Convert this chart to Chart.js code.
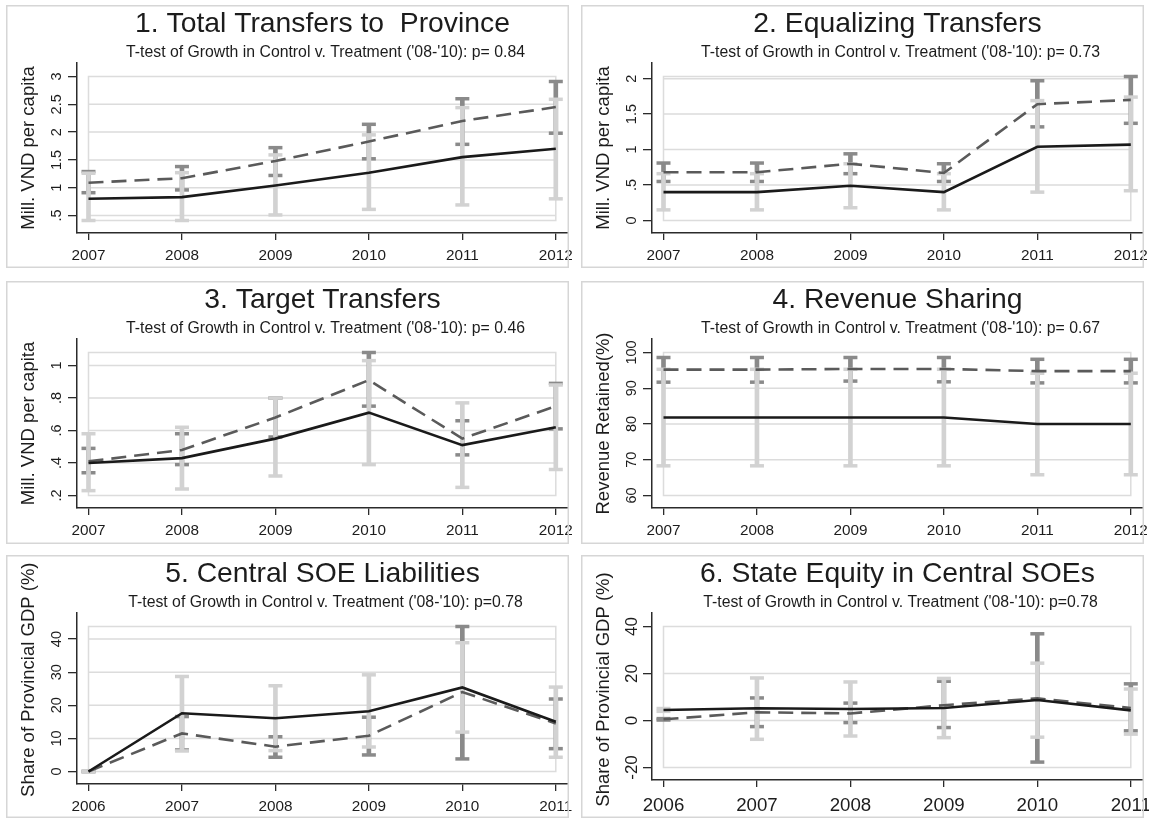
<!DOCTYPE html>
<html><head><meta charset="utf-8">
<script src="https://cdn.jsdelivr.net/npm/chart.js@4.4.1/dist/chart.umd.min.js"></script>
<style>
html,body{margin:0;padding:0;background:#fff;}
body{width:1149px;height:818px;position:relative;overflow:hidden;}
canvas{position:absolute;}
</style></head><body>
<canvas id="c1" width="577" height="264" style="left:6px;top:5px"></canvas>
<canvas id="c2" width="577" height="264" style="left:581px;top:5px"></canvas>
<canvas id="c3" width="577" height="264" style="left:6px;top:281px"></canvas>
<canvas id="c4" width="577" height="264" style="left:581px;top:281px"></canvas>
<canvas id="c5" width="577" height="264" style="left:6px;top:555px"></canvas>
<canvas id="c6" width="577" height="264" style="left:581px;top:555px"></canvas>
<script>
// ---------- categories ----------
const yearsA = [2007, 2008, 2009, 2010, 2011, 2012];
const yearsB = [2006, 2007, 2008, 2009, 2010, 2011];

// ---------- titles ----------
const titles = ["1. Total Transfers to  Province", "2. Equalizing Transfers", "3. Target Transfers",
  "4. Revenue Sharing", "5. Central SOE Liabilities", "6. State Equity in Central SOEs"];
const subtitles = [
  "T-test of Growth in Control v. Treatment ('08-'10): p= 0.84",
  "T-test of Growth in Control v. Treatment ('08-'10): p= 0.73",
  "T-test of Growth in Control v. Treatment ('08-'10): p= 0.46",
  "T-test of Growth in Control v. Treatment ('08-'10): p= 0.67",
  "T-test of Growth in Control v. Treatment ('08-'10): p=0.78",
  "T-test of Growth in Control v. Treatment ('08-'10): p=0.78"];
const yTitles = ["Mill. VND per capita", "Mill. VND per capita", "Mill. VND per capita",
  "Revenue Retained(%)", "Share of Provincial GDP (%)", "Share of Provincial GDP (%)"];

// ---------- y tick values / labels ----------
const p1Ticks = [0.5, 1, 1.5, 2, 2.5, 3];      const p1TickLabels = [".5", "1", "1.5", "2", "2.5", "3"];
const p2Ticks = [0, 0.5, 1, 1.5, 2];           const p2TickLabels = ["0", ".5", "1", "1.5", "2"];
const p3Ticks = [0.2, 0.4, 0.6, 0.8, 1];       const p3TickLabels = [".2", ".4", ".6", ".8", "1"];
const p4Ticks = [60, 70, 80, 90, 100];         const p4TickLabels = ["60", "70", "80", "90", "100"];
const p5Ticks = [0, 10, 20, 30, 40];           const p5TickLabels = ["0", "10", "20", "30", "40"];
const p6Ticks = [-20, 0, 20, 40];              const p6TickLabels = ["-20", "0", "20", "40"];

// ---------- series (solid = black line + light CI, dashed = grey line + dark CI) ----------
const p1Solid   = [0.80, 0.83, 1.04, 1.27, 1.55, 1.70];
const p1SolidLo = [0.41, 0.41, 0.51, 0.61, 0.69, 0.80];
const p1SolidHi = [1.26, 1.27, 1.59, 1.95, 2.44, 2.59];
const p1Dash    = [1.09, 1.17, 1.48, 1.83, 2.20, 2.45];
const p1DashLo  = [0.91, 0.96, 1.22, 1.52, 1.78, 1.98];
const p1DashHi  = [1.29, 1.38, 1.72, 2.14, 2.60, 2.91];

const p2Solid   = [0.40, 0.40, 0.49, 0.40, 1.04, 1.07];
const p2SolidLo = [0.15, 0.15, 0.18, 0.15, 0.40, 0.42];
const p2SolidHi = [0.66, 0.66, 0.80, 0.66, 1.69, 1.74];
const p2Dash    = [0.68, 0.68, 0.80, 0.67, 1.64, 1.70];
const p2DashLo  = [0.55, 0.55, 0.66, 0.55, 1.32, 1.37];
const p2DashHi  = [0.81, 0.81, 0.94, 0.80, 1.97, 2.03];

const p3Solid   = [0.40, 0.43, 0.55, 0.71, 0.51, 0.62];
const p3SolidLo = [0.23, 0.24, 0.32, 0.39, 0.25, 0.36];
const p3SolidHi = [0.58, 0.62, 0.80, 1.03, 0.77, 0.88];
const p3Dash    = [0.41, 0.48, 0.68, 0.91, 0.55, 0.75];
const p3DashLo  = [0.34, 0.39, 0.56, 0.75, 0.45, 0.61];
const p3DashHi  = [0.49, 0.58, 0.80, 1.08, 0.66, 0.89];

const p4Solid   = [81.8, 81.8, 81.8, 81.8, 80.0, 80.0];
const p4SolidLo = [68.3, 68.3, 68.3, 68.3, 65.8, 65.8];
const p4SolidHi = [95.3, 95.3, 95.3, 95.3, 94.2, 94.2];
const p4Dash    = [95.2, 95.2, 95.4, 95.4, 94.8, 94.8];
const p4DashLo  = [91.7, 91.7, 92.0, 91.8, 91.5, 91.5];
const p4DashHi  = [98.6, 98.6, 98.6, 98.6, 98.1, 98.1];

const p5Solid   = [0, 17.6, 16.1, 18.2, 25.4, 15.0];
const p5SolidLo = [0, 6.2, 6.3, 7.4, 11.9, 4.3];
const p5SolidHi = [0, 28.7, 25.9, 29.2, 38.9, 25.5];
const p5Dash    = [0, 11.5, 7.5, 10.8, 24.0, 14.5];
const p5DashLo  = [0, 6.5, 4.3, 5.0, 3.8, 6.9];
const p5DashHi  = [0, 16.6, 10.5, 16.4, 43.8, 21.9];

const p6Solid   = [4.5, 5.2, 4.9, 5.3, 8.7, 4.3];
const p6SolidLo = [3.9, -8.0, -6.6, -7.3, -7.1, -5.8];
const p6SolidHi = [5.1, 18.1, 16.4, 17.9, 24.4, 13.4];
const p6Dash    = [0.5, 3.5, 3.0, 6.5, 9.4, 5.3];
const p6DashLo  = [0.2, -2.6, -0.9, -3.0, -17.7, -4.4];
const p6DashHi  = [0.8, 9.6, 7.4, 16.7, 36.9, 15.6];

// ---------- panel table built from the arrays ----------
const panels = [
  {id:'c1', years:yearsA, ticks:p1Ticks, tickLabels:p1TickLabels, s:p1Solid, sLo:p1SolidLo, sHi:p1SolidHi, d:p1Dash, dLo:p1DashLo, dHi:p1DashHi},
  {id:'c2', years:yearsA, ticks:p2Ticks, tickLabels:p2TickLabels, s:p2Solid, sLo:p2SolidLo, sHi:p2SolidHi, d:p2Dash, dLo:p2DashLo, dHi:p2DashHi},
  {id:'c3', years:yearsA, ticks:p3Ticks, tickLabels:p3TickLabels, s:p3Solid, sLo:p3SolidLo, sHi:p3SolidHi, d:p3Dash, dLo:p3DashLo, dHi:p3DashHi},
  {id:'c4', years:yearsA, ticks:p4Ticks, tickLabels:p4TickLabels, s:p4Solid, sLo:p4SolidLo, sHi:p4SolidHi, d:p4Dash, dLo:p4DashLo, dHi:p4DashHi},
  {id:'c5', years:yearsB, ticks:p5Ticks, tickLabels:p5TickLabels, s:p5Solid, sLo:p5SolidLo, sHi:p5SolidHi, d:p5Dash, dLo:p5DashLo, dHi:p5DashHi},
  {id:'c6', years:yearsB, ticks:p6Ticks, tickLabels:p6TickLabels, s:p6Solid, sLo:p6SolidLo, sHi:p6SolidHi, d:p6Dash, dLo:p6DashLo, dHi:p6DashHi}
];
// layout / style per panel
const styles = [
  {plotBottom:228, yTitleC:null,  yTickFont:14.5, yTickX:54.7, xTickFont:15.3, xTickDy:27},
  {plotBottom:228, yTitleC:null,  yTickFont:14.5, yTickX:54.7, xTickFont:15.3, xTickDy:27},
  {plotBottom:227, yTitleC:null,  yTickFont:14.5, yTickX:54.7, xTickFont:15.3, xTickDy:27},
  {plotBottom:227, yTitleC:null,  yTickFont:14.5, yTickX:54.7, xTickFont:15.3, xTickDy:27},
  {plotBottom:229, yTitleC:124.7, yTickFont:14.5, yTickX:54.7, xTickFont:15.3, xTickDy:27},
  {plotBottom:225, yTitleC:134.5, yTickFont:17,   yTickX:55.7, xTickFont:18.7, xTickDy:30.7}
];

const FONT = "'Liberation Sans', Arial, Helvetica, sans-serif";
Chart.defaults.font.family = FONT;
const LIGHT = '#d2d2d2', DARK = '#8a8a8a', SOLID = '#1a1a1a', DASH = '#5a5a5a';
const GRID = '#dcdcdc', AXIS = '#2b2b2b', FRAME = '#d6d6d6', TEXT = '#1c1c1c';

const pts = (xs, ys) => xs.map((x, i) => ({x: x, y: ys[i]}));
const capPts = (xs, lo, hi) => xs.flatMap((x, i) => [{x: x, y: lo[i]}, {x: x, y: hi[i]}]);
const barPts = (xs, lo, hi) => xs.map((x, i) => ({x: x, y: [lo[i], hi[i]]}));

panels.forEach((p, k) => {
  const st = styles[k];
  const plotLeft = 71, plotTop = 58, plotRight = 562, plotBottom = st.plotBottom;
  const canvasW = 577, canvasH = 264;
  const boxLeftPx = 82.5, boxRightPx = 549.8;
  const boxTopPx = plotTop + 13.5, boxBottomPx = plotBottom - 12.5;

  const x0 = p.years[0], x1 = p.years[p.years.length - 1];
  const xPerPx = (x1 - x0) / (boxRightPx - boxLeftPx);
  const xMin = x0 - xPerPx * (boxLeftPx - plotLeft);
  const xMax = x1 + xPerPx * (plotRight - boxRightPx);

  const allY = [].concat(p.ticks, p.s, p.sLo, p.sHi, p.d, p.dLo, p.dHi);
  const bMin = Math.min(...allY), bMax = Math.max(...allY);
  const yPerPx = (bMax - bMin) / (boxBottomPx - boxTopPx);
  const yMin = bMin - yPerPx * (plotBottom - boxBottomPx);
  const yMax = bMax + yPerPx * (boxTopPx - plotTop);

  const deco = {
    id: 'deco' + k,
    beforeDatasetsDraw(chart) {
      const {ctx} = chart; const xs = chart.scales.x, ys = chart.scales.y;
      const xl = xs.getPixelForValue(x0), xr = xs.getPixelForValue(x1);
      const yt = ys.getPixelForValue(bMax), yb = ys.getPixelForValue(bMin);
      ctx.save();
      ctx.strokeStyle = GRID; ctx.lineWidth = 1.5;
      ctx.beginPath();
      p.ticks.forEach(v => { const py = ys.getPixelForValue(v); ctx.moveTo(xl, py); ctx.lineTo(xr, py); });
      ctx.rect(xl, yt, xr - xl, yb - yt);
      ctx.stroke();
      ctx.restore();
    },
    afterDraw(chart) {
      const {ctx, chartArea} = chart; const xs = chart.scales.x, ys = chart.scales.y;
      ctx.save();
      ctx.fillStyle = TEXT;
      const cx = (chartArea.left + chartArea.right) / 2;
      ctx.textAlign = 'center'; ctx.textBaseline = 'alphabetic';
      ctx.font = '28.3px ' + FONT; ctx.fillText(titles[k], cx, 26.5);
      ctx.font = '15.8px ' + FONT; ctx.fillText(subtitles[k], cx + 3, 51.8);
      // x tick labels
      ctx.font = st.xTickFont + 'px ' + FONT;
      xs.ticks.forEach(t => ctx.fillText(String(t.value), xs.getPixelForValue(t.value), chartArea.bottom + st.xTickDy));
      // y tick labels (rotated)
      ctx.font = st.yTickFont + 'px ' + FONT;
      ys.ticks.forEach(t => {
        const idx = p.ticks.indexOf(t.value);
        ctx.save(); ctx.translate(st.yTickX, ys.getPixelForValue(t.value)); ctx.rotate(-Math.PI / 2);
        ctx.fillText(p.tickLabels[idx], 0, 0); ctx.restore();
      });
      // y axis title
      ctx.font = '18.5px ' + FONT;
      const yc = st.yTitleC !== null ? st.yTitleC : (chartArea.top + chartArea.bottom) / 2;
      ctx.save(); ctx.translate(28.3, yc); ctx.rotate(-Math.PI / 2); ctx.fillText(yTitles[k], 0, 0); ctx.restore();
      // panel frame
      ctx.strokeStyle = FRAME; ctx.lineWidth = 1.5;
      ctx.strokeRect(0.75, 0.75, 561.5, 261.5);
      ctx.restore();
    }
  };

  new Chart(document.getElementById(p.id), {
    type: 'line',
    data: {
      datasets: [
        {type:'line', data: pts(p.years, p.s), borderColor: SOLID, borderWidth: 2.6, pointRadius: 0, tension: 0, order: 0},
        {type:'line', data: pts(p.years, p.d), borderColor: DASH, borderWidth: 2.6, borderDash: [15, 8], pointRadius: 0, tension: 0, order: 1},
        {type:'line', data: capPts(p.years, p.sLo, p.sHi), showLine: false, pointStyle: 'line', pointRadius: 7, pointBorderWidth: 3.5, pointBorderColor: LIGHT, pointBackgroundColor: LIGHT, order: 2},
        {type:'bar', data: barPts(p.years, p.sLo, p.sHi), backgroundColor: LIGHT, barThickness: 4, maxBarThickness: 4, grouped: false, order: 3},
        {type:'line', data: capPts(p.years, p.dLo, p.dHi), showLine: false, pointStyle: 'line', pointRadius: 7, pointBorderWidth: 3.5, pointBorderColor: DARK, pointBackgroundColor: DARK, order: 4},
        {type:'bar', data: barPts(p.years, p.dLo, p.dHi), backgroundColor: DARK, barThickness: 4, maxBarThickness: 4, grouped: false, order: 5}
      ]
    },
    options: {
      responsive: false, animation: false, devicePixelRatio: 1, events: [],
      layout: {padding: {left: 0, top: plotTop, right: canvasW - plotRight, bottom: 0}},
      plugins: {legend: {display: false}, tooltip: {enabled: false}, title: {display: false}},
      scales: {
        x: {
          type: 'linear', min: xMin, max: xMax, offset: false,
          afterBuildTicks: s => { s.ticks = p.years.map(v => ({value: v})); },
          afterFit: s => { s.height = canvasH - plotBottom; },
          ticks: {display: false},
          grid: {display: true, drawOnChartArea: false, drawTicks: true, tickLength: 7, color: AXIS, lineWidth: 1.3, offset: false},
          border: {display: true, color: AXIS, width: 1.5}
        },
        y: {
          type: 'linear', min: yMin, max: yMax, beginAtZero: false,
          afterBuildTicks: s => { s.ticks = p.ticks.map(v => ({value: v})); },
          afterFit: s => { s.width = plotLeft; },
          ticks: {display: false},
          grid: {display: true, drawOnChartArea: false, drawTicks: true, tickLength: 9, color: AXIS, lineWidth: 1.3},
          border: {display: true, color: AXIS, width: 1.5}
        }
      }
    },
    plugins: [deco]
  });
});
</script>
</body></html>
